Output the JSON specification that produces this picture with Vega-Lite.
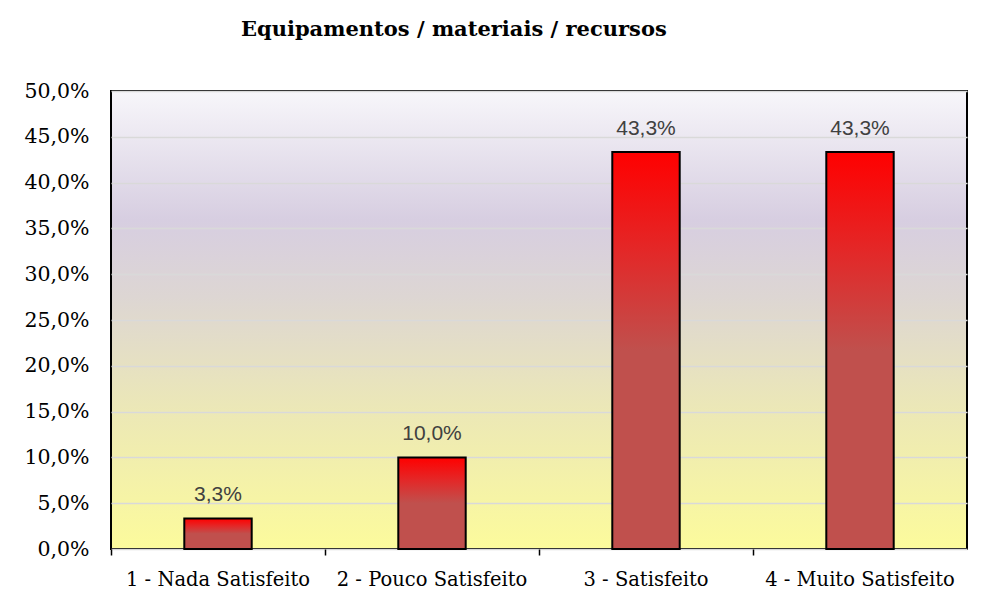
{
  "$schema": "https://vega.github.io/schema/vega-lite/v6.json",
  "width": 856,
  "height": 458,
  "autosize": {"type": "none"},
  "padding": {"left": 111, "top": 91, "right": 17, "bottom": 59},
  "background": "white",
  "title": {
    "text": "Equipamentos / materiais / recursos",
    "anchor": "start",
    "frame": "group",
    "dx": 130,
    "offset": 41,
    "font": "DejaVu Serif",
    "fontSize": 21,
    "fontWeight": "bold",
    "color": "#000000"
  },
  "data": {
    "values": [
      {"categoria": "1 - Nada Satisfeito", "percentual": 0.0333},
      {"categoria": "2 - Pouco Satisfeito", "percentual": 0.1},
      {"categoria": "3 - Satisfeito", "percentual": 0.4333},
      {"categoria": "4 - Muito Satisfeito", "percentual": 0.4333}
    ]
  },
  "encoding": {
    "x": {
      "field": "categoria",
      "type": "nominal",
      "sort": null,
      "scale": {"paddingInner": 0, "paddingOuter": 0},
      "axis": {
        "title": null,
        "labelAngle": 0,
        "bandPosition": 0,
        "domain": false,
        "ticks": true,
        "tickSize": 6,
        "tickWidth": 1.5,
        "tickColor": "#000000",
        "labelPadding": 15,
        "labelLimit": 0,
        "labelFont": "DejaVu Serif",
        "labelFontSize": 19.5,
        "labelColor": "#000000",
        "grid": false
      }
    },
    "y": {
      "field": "percentual",
      "type": "quantitative",
      "scale": {"domain": [0, 0.5], "nice": false},
      "axis": {
        "title": null,
        "values": [0, 0.05, 0.1, 0.15, 0.2, 0.25, 0.3, 0.35, 0.4, 0.45, 0.5],
        "format": ".1%",
        "domain": false,
        "ticks": false,
        "labelPadding": 22,
        "labelFont": "DejaVu Serif",
        "labelFontSize": 20.5,
        "labelColor": "#000000",
        "grid": true,
        "gridColor": "#d9d9d9",
        "gridWidth": 1.5
      }
    }
  },
  "layer": [
    {
      "mark": {
        "type": "bar",
        "width": {"band": 0.315},
        "stroke": "#000000",
        "strokeWidth": 2,
        "fill": {
          "gradient": "linear",
          "x1": 0, "y1": 0, "x2": 0, "y2": 1,
          "stops": [
            {"offset": 0, "color": "#ff0000"},
            {"offset": 0.25, "color": "#e32828"},
            {"offset": 0.5, "color": "#c0504d"},
            {"offset": 1, "color": "#c0504d"}
          ]
        }
      }
    },
    {
      "mark": {
        "type": "text",
        "baseline": "alphabetic",
        "dy": -17,
        "font": "Liberation Sans",
        "fontSize": 21,
        "color": "#404040"
      },
      "encoding": {
        "text": {"field": "percentual", "type": "quantitative", "format": ".1%"}
      }
    }
  ],
  "config": {
    "locale": {"number": {"decimal": ",", "thousands": ".", "grouping": [3], "currency": ["", " €"]}},
    "view": {
      "stroke": "#000000",
      "strokeWidth": 2,
      "fill": {
        "gradient": "linear",
        "x1": 0, "y1": 0, "x2": 0, "y2": 1,
        "stops": [
          {"offset": 0, "color": "#f7f6fa"},
          {"offset": 0.28, "color": "#d7cee1"},
          {"offset": 0.45, "color": "#ddd6d3"},
          {"offset": 0.7, "color": "#ece8b6"},
          {"offset": 1, "color": "#fcfb9c"}
        ]
      }
    }
  }
}
